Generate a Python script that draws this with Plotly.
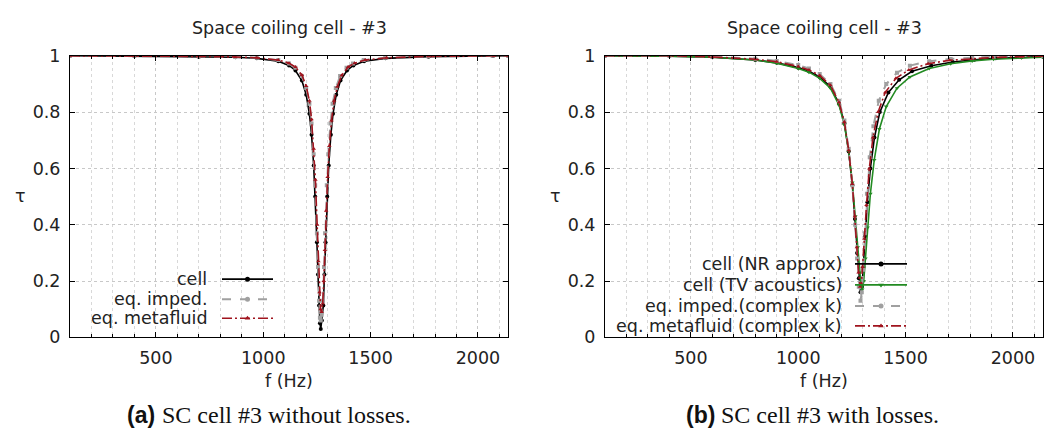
import plotly.graph_objects as go

# ---------------- data ----------------
# Panel (a): without losses
fa_cell = [100, 400, 700, 870, 970, 1070, 1120, 1150, 1180, 1200, 1215, 1225, 1235, 1242, 1250, 1255, 1260,
           1264, 1268, 1273, 1280, 1285, 1290, 1298, 1305, 1315, 1325, 1340, 1360, 1390, 1420, 1470, 1570,
           1770, 2070, 2140]
ta_cell = [1.0, 0.999, 0.997, 0.995, 0.991, 0.981, 0.966, 0.948, 0.912, 0.862, 0.794, 0.72, 0.61, 0.5, 0.338, 0.223,
           0.113, 0.05, 0.03, 0.06, 0.113, 0.223, 0.338, 0.5, 0.61, 0.72, 0.794, 0.862, 0.912, 0.948, 0.966, 0.981,
           0.991, 0.997, 0.999, 1.0]

fa_imp = [100, 400, 700, 870, 970, 1070, 1120, 1150, 1180, 1200, 1215, 1225, 1235, 1242, 1250, 1255, 1260,
          1264, 1268, 1272, 1278, 1283, 1288, 1296, 1303, 1313, 1323, 1338, 1358, 1388, 1418, 1468, 1568,
          1768, 2068, 2140]
ta_imp = [1.0, 1.0, 0.998, 0.996, 0.993, 0.985, 0.973, 0.958, 0.928, 0.886, 0.83, 0.76, 0.65, 0.54, 0.37, 0.25,
          0.13, 0.07, 0.06, 0.08, 0.13, 0.25, 0.37, 0.54, 0.65, 0.76, 0.83, 0.886, 0.928, 0.958, 0.973, 0.985,
          0.993, 0.998, 1.0, 1.0]

fa_meta = [100, 400, 700, 870, 970, 1070, 1120, 1150, 1180, 1200, 1215, 1225, 1235, 1243, 1251, 1257, 1262,
           1267, 1272, 1277, 1282, 1287, 1293, 1300, 1308, 1318, 1330, 1345, 1365, 1395, 1425, 1475, 1575,
           1775, 2075, 2140]
ta_meta = [1.0, 1.0, 0.998, 0.996, 0.993, 0.985, 0.974, 0.96, 0.932, 0.893, 0.84, 0.775, 0.67, 0.56, 0.4, 0.27,
           0.16, 0.1, 0.09, 0.12, 0.2, 0.31, 0.45, 0.57, 0.68, 0.77, 0.84, 0.89, 0.93, 0.96, 0.974, 0.985,
           0.993, 0.998, 1.0, 1.0]

# Panel (b): with losses
fb_nr = [100, 400, 600, 800, 900, 1000, 1050, 1100, 1150, 1190, 1215, 1235, 1252, 1264, 1274, 1282, 1290,
         1297, 1304, 1312, 1322, 1336, 1355, 1380, 1420, 1470, 1530, 1620, 1720, 1820, 1920, 2040, 2140]
tb_nr = [1.0, 0.999, 0.995, 0.985, 0.975, 0.958, 0.945, 0.925, 0.89, 0.83, 0.76, 0.66, 0.54, 0.42, 0.3, 0.21, 0.16,
         0.18, 0.25, 0.36, 0.48, 0.6, 0.71, 0.8, 0.87, 0.915, 0.945, 0.965, 0.978, 0.986, 0.991, 0.995, 0.997]

fb_tv = [100, 400, 600, 800, 900, 1000, 1050, 1100, 1150, 1190, 1215, 1235, 1252, 1266, 1277, 1286, 1293,
         1298, 1305, 1313, 1323, 1336, 1354, 1378, 1410, 1460, 1520, 1610, 1710, 1810, 1910, 2040, 2140]
tb_tv = [1.0, 0.999, 0.995, 0.985, 0.974, 0.955, 0.942, 0.92, 0.885, 0.825, 0.755, 0.66, 0.55, 0.43, 0.32, 0.23, 0.18,
         0.17, 0.2, 0.28, 0.39, 0.51, 0.63, 0.74, 0.82, 0.885, 0.925, 0.955, 0.972, 0.982, 0.988, 0.993, 0.995]

fb_imp = [100, 400, 600, 800, 900, 1000, 1050, 1100, 1150, 1190, 1215, 1235, 1252, 1265, 1274, 1282, 1290,
          1296, 1302, 1310, 1320, 1333, 1350, 1375, 1410, 1460, 1520, 1610, 1710, 1810, 1910, 2040, 2140]
tb_imp = [1.0, 1.0, 0.997, 0.99, 0.982, 0.967, 0.955, 0.935, 0.9, 0.84, 0.77, 0.67, 0.54, 0.4, 0.28, 0.18, 0.13,
          0.16, 0.24, 0.37, 0.51, 0.64, 0.75, 0.84, 0.9, 0.94, 0.965, 0.981, 0.989, 0.994, 0.997, 0.999, 1.0]

fb_meta = [100, 400, 600, 800, 900, 1000, 1050, 1100, 1150, 1190, 1215, 1235, 1252, 1264, 1273, 1281, 1288,
           1294, 1300, 1308, 1318, 1331, 1348, 1372, 1405, 1455, 1515, 1605, 1705, 1805, 1905, 2040, 2140]
tb_meta = [1.0, 1.0, 0.996, 0.988, 0.979, 0.962, 0.95, 0.93, 0.895, 0.835, 0.765, 0.665, 0.545, 0.43, 0.32, 0.23, 0.18,
           0.19, 0.25, 0.35, 0.47, 0.6, 0.71, 0.8, 0.87, 0.92, 0.95, 0.972, 0.984, 0.99, 0.994, 0.997, 0.999]

x_range = [100, 2140]
x_ticks = [500, 1000, 1500, 2000]
y_ticks = [0, 0.2, 0.4, 0.6, 0.8, 1]
y_ticklabels = ["0", "0.2", "0.4", "0.6", "0.8", "1"]

legend_a = ["cell", "eq. imped.", "eq. metafluid"]
legend_b = ["cell (NR approx)", "cell (TV acoustics)", "eq. imped.(complex k)", "eq. metafluid (complex k)"]
title_text = "Space coiling cell - #3"

# ---------------- styles ----------------
W, H = 1044, 439
BLACK = "#000000"
GRAY = "#a0a0a0"
RED = "#a0141e"
GREEN = "#228b22"
FONT = "DejaVu Sans"
FS = 17.5

def px_x(p):
    return p / W

def px_y(p):
    return 1 - p / H

# plot boxes (pixels)
A_L, A_R = 70, 508
B_L, B_R = 605, 1043
TOP, BOT = 48, 343

fig = go.Figure()

def add_series(xs, ys, color, dash, symbol, msize, xa, ya, width=1.6):
    fig.add_trace(go.Scatter(
        x=xs, y=ys, mode="lines+markers", xaxis=xa, yaxis=ya,
        line=dict(color=color, width=width, dash=dash),
        marker=dict(color=color, size=msize, symbol=symbol),
        showlegend=False, hoverinfo="skip"))

DASHDOT = "10px,3px,2px,3px"
# panel a
add_series(fa_cell, ta_cell, BLACK, "solid", "circle", 4, "x", "y")
add_series(fa_imp, ta_imp, GRAY, "dash", "square", 4, "x", "y", 2)
add_series(fa_meta, ta_meta, RED, DASHDOT, "triangle-up", 4, "x", "y")
# panel b
add_series(fb_nr, tb_nr, BLACK, "solid", "circle", 4, "x2", "y2")
add_series(fb_tv, tb_tv, GREEN, "solid", "triangle-down", 4, "x2", "y2")
add_series(fb_imp, tb_imp, GRAY, "dash", "square", 4, "x2", "y2", 2)
add_series(fb_meta, tb_meta, RED, DASHDOT, "triangle-up", 4, "x2", "y2")

# legend samples on a pixel-coordinate overlay axis
def legend_sample(x0, x1, y, color, dash, symbol, width=1.6):
    fig.add_trace(go.Scatter(
        x=[x0, (x0 + x1) / 2, x1], y=[y, y, y], mode="lines", xaxis="x3", yaxis="y3",
        line=dict(color=color, width=width, dash=dash), showlegend=False, hoverinfo="skip"))
    fig.add_trace(go.Scatter(
        x=[(x0 + x1) / 2], y=[y], mode="markers", xaxis="x3", yaxis="y3",
        marker=dict(color=color, size=5, symbol=symbol), showlegend=False, hoverinfo="skip"))

annotations = []
styles_a = [(BLACK, "solid", "circle", 1.6), (GRAY, "dash", "circle", 2), (RED, DASHDOT, "triangle-up", 1.6)]
rows_a = [282, 303, 323]
for name, (c, d, s, w), yy in zip(legend_a, styles_a, rows_a):
    legend_sample(222, 273, yy, c, d, s, w)
    annotations.append(dict(x=px_x(209), y=px_y(yy), xref="paper", yref="paper", text=name,
                            xanchor="right", yanchor="middle", showarrow=False,
                            font=dict(family=FONT, size=FS, color="#222222")))
styles_b = [(BLACK, "solid", "circle", 1.6), (GREEN, "solid", "triangle-down", 1.6),
            (GRAY, "dash", "circle", 2), (RED, DASHDOT, "triangle-up", 1.6)]
rows_b = [266, 288, 310, 331]
for name, (c, d, s, w), yy in zip(legend_b, styles_b, rows_b):
    legend_sample(855, 907, yy, c, d, s, w)
    annotations.append(dict(x=px_x(844), y=px_y(yy), xref="paper", yref="paper", text=name,
                            xanchor="right", yanchor="middle", showarrow=False,
                            font=dict(family=FONT, size=FS, color="#222222")))

# titles
for cx in [(A_L + A_R) / 2, (B_L + B_R) / 2]:
    annotations.append(dict(x=px_x(cx), y=px_y(19), xref="paper", yref="paper", text=title_text,
                            xanchor="center", yanchor="middle", showarrow=False,
                            font=dict(family=FONT, size=FS, color="#222222")))
# axis labels
for cx in [(A_L + A_R) / 2, (B_L + B_R) / 2]:
    annotations.append(dict(x=px_x(cx), y=px_y(389), xref="paper", yref="paper", text="f (Hz)",
                            xanchor="center", yanchor="middle", showarrow=False,
                            font=dict(family=FONT, size=FS, color="#222222")))
for lx in [A_L - 50, B_L - 50]:
    annotations.append(dict(x=px_x(lx), y=px_y(195), xref="paper", yref="paper", text="τ",
                            xanchor="center", yanchor="middle", showarrow=False,
                            font=dict(family=FONT, size=FS, color="#222222")))
# captions
captions = [("(a)", "SC cell #3 without losses.", 125), ("(b)", "SC cell #3 with losses.", 684)]
for tag, txt, x0 in captions:
    annotations.append(dict(x=px_x(x0), y=px_y(424), xref="paper", yref="paper", text="<b>" + tag + "</b>",
                            xanchor="left", yanchor="middle", showarrow=False,
                            font=dict(family="Liberation Sans", size=23, color="#111111")))
    annotations.append(dict(x=px_x(x0 + 35), y=px_y(424), xref="paper", yref="paper", text=txt,
                            xanchor="left", yanchor="middle", showarrow=False,
                            font=dict(family="Liberation Serif", size=24, color="#111111")))

axis_common = dict(
    showline=True, linecolor="#000000", linewidth=1, mirror="allticks",
    ticks="inside", ticklen=5, tickcolor="#000000",
    showgrid=True, gridcolor="#c8c8c8", griddash="dot", gridwidth=1,
    zeroline=False, tickfont=dict(family=FONT, size=FS, color="#222222"),
)

fig.update_layout(
    width=W, height=H, margin=dict(l=0, r=0, t=0, b=0),
    paper_bgcolor="white", plot_bgcolor="rgba(0,0,0,0)",
    annotations=annotations,
    xaxis=dict(domain=[px_x(A_L), px_x(A_R)], range=x_range, tickvals=x_ticks, anchor="y",
               ticklabelstandoff=5,
               minor=dict(dtick=100, tick0=0, ticks="inside", ticklen=3, tickcolor="#000000",
                          showgrid=True, gridcolor="#d8d8d8", griddash="dot"),
               **axis_common),
    yaxis=dict(domain=[px_y(BOT), px_y(TOP)], range=[0, 1], tickvals=y_ticks, ticktext=y_ticklabels,
               anchor="x", ticklabelstandoff=5, **axis_common),
    xaxis2=dict(domain=[px_x(B_L), px_x(B_R)], range=x_range, tickvals=x_ticks, anchor="y2",
                ticklabelstandoff=5,
                minor=dict(dtick=100, tick0=0, ticks="inside", ticklen=3, tickcolor="#000000",
                           showgrid=True, gridcolor="#d8d8d8", griddash="dot"),
                **axis_common),
    yaxis2=dict(domain=[px_y(BOT), px_y(TOP)], range=[0, 1], tickvals=y_ticks, ticktext=y_ticklabels,
                anchor="x2", ticklabelstandoff=5, **axis_common),
    xaxis3=dict(domain=[0, 1], range=[0, W], visible=False, anchor="y3", fixedrange=True),
    yaxis3=dict(domain=[0, 1], range=[H, 0], visible=False, anchor="x3", fixedrange=True),
)

fig.write_html("out.html")
